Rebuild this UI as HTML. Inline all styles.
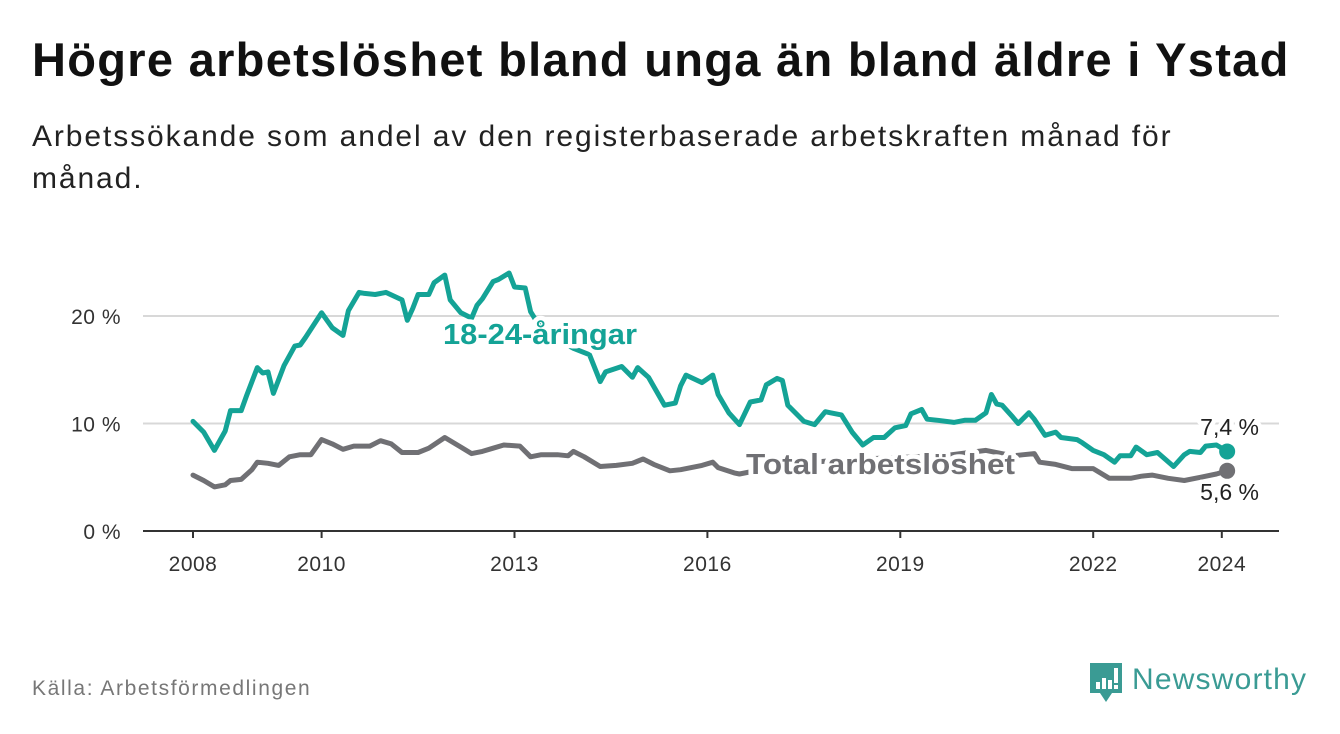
<!DOCTYPE html>
<html><head><meta charset="utf-8"><style>
body{margin:0;width:1340px;height:734px;background:#fff;font-family:"Liberation Sans",sans-serif;overflow:hidden;position:relative}
h1{position:absolute;left:32px;top:32px;margin:0;font-size:47px;font-weight:bold;color:#111;letter-spacing:1.3px;white-space:nowrap}
.sub{position:absolute;left:32px;top:116px;width:1200px;font-size:30px;line-height:42px;color:#222;letter-spacing:1.9px}
.src{position:absolute;left:32px;top:677px;font-size:21px;color:#777;letter-spacing:1.6px}
.logo{position:absolute;left:1088px;top:660px}
</style></head><body>
<h1>Högre arbetslöshet bland unga än bland äldre i Ystad</h1>
<div class="sub">Arbetssökande som andel av den registerbaserade arbetskraften månad för månad.</div>
<div class="src">Källa: Arbetsförmedlingen</div>
<svg class="logo" width="240" height="48">
<path d="M2 3h32v30h-10l-6 9-6-9H2z" fill="#3a9b94"/>
<rect x="8" y="22" width="4" height="7" fill="#fff"/><rect x="14" y="18" width="4" height="11" fill="#fff"/><rect x="20" y="20" width="4" height="9" fill="#fff"/><rect x="26" y="8" width="4" height="15" fill="#fff"/><rect x="26" y="25" width="4" height="4" fill="#fff"/>
<text x="44" y="29" font-size="30" font-family="Liberation Sans" fill="#3a9b94" textLength="174">Newsworthy</text>
</svg>
<svg id="chart" width="1340" height="734" style="position:absolute;left:0;top:0"></svg>
<script>
const youngMonths=[0,2,4,6,7,9,10,12,13,14,15,17,19,20,21,24,26,28,29,31,32,34,36,39,40,41,42,44,45,47,48,50,52,53,54,56,57,59,60,62,63,65,68,71,74,76,77,80,82,83,85,88,90,91,92,95,97,98,100,102,104,106,107,109,110,111,114,116,118,119,121,123,125,127,129,131,133,134,136,137,139,142,144,146,148,149,150,151,153,154,156,157,159,161,162,165,166,168,170,172,173,175,176,178,180,183,185,186,188,189,191,193];
const youngValues=[10.2,9.2,7.5,9.3,11.2,11.2,12.6,15.2,14.7,14.8,12.8,15.4,17.2,17.3,18,20.3,18.9,18.2,20.5,22.2,22.1,22,22.2,21.5,19.6,20.7,22,22,23.1,23.8,21.5,20.3,19.8,21,21.6,23.2,23.4,24,22.7,22.6,20.4,18.8,17.8,17,16.4,13.9,14.8,15.3,14.3,15.2,14.3,11.7,11.9,13.5,14.5,13.8,14.5,12.7,11,9.9,12,12.2,13.6,14.2,14,11.7,10.2,9.9,11.1,11,10.8,9.2,8,8.7,8.7,9.6,9.8,10.9,11.3,10.4,10.3,10.1,10.3,10.3,11,12.7,11.8,11.7,10.6,10,11,10.4,8.9,9.2,8.7,8.5,8.2,7.5,7.1,6.4,7,7,7.8,7.1,7.3,6,7.1,7.4,7.3,7.9,8,7.4];
const totalMonths=[0,2,4,6,7,9,11,12,14,16,18,20,22,24,26,28,30,33,35,37,39,42,44,47,50,52,54,56,58,61,63,65,68,70,71,73,76,79,82,84,86,89,91,95,97,98,101,102,110,120,130,140,148,153,155,157,158,161,164,166,168,171,175,177,179,182,185,188,191,193];
const totalValues=[5.2,4.7,4.1,4.3,4.7,4.8,5.7,6.4,6.3,6.1,6.9,7.1,7.1,8.5,8.1,7.6,7.9,7.9,8.4,8.1,7.3,7.3,7.7,8.7,7.8,7.2,7.4,7.7,8.0,7.9,6.9,7.1,7.1,7.0,7.4,6.9,6.0,6.1,6.3,6.7,6.2,5.6,5.7,6.1,6.4,5.9,5.4,5.3,6.1,6.6,6.8,7.0,7.5,7.0,7.1,7.2,6.4,6.2,5.8,5.8,5.8,4.9,4.9,5.1,5.2,4.9,4.7,5.0,5.3,5.6];
const yTicks=[0,10,20];
const yTickLabels=["0 %","10 %","20 %"];
const xTickYears=[2008,2010,2013,2016,2019,2022,2024];

const NS="http://www.w3.org/2000/svg";
const svg=document.getElementById('chart');
const X=m=>193+m*(64.3/12);
const XY=y=>X((y-2008)*12);
const Y=v=>531-v*10.75;
function el(t,a,p){const e=document.createElementNS(NS,t);for(const k in a)e.setAttribute(k,a[k]);(p||svg).appendChild(e);return e;}

yTicks.forEach((t,i)=>{
  if(t>0){const g=el('line',{x1:143,x2:1279,y1:Y(t),y2:Y(t),stroke:'#d8d8d8','stroke-width':2});
  
  }
  const l=el('text',{x:121,y:Y(t)+8,'text-anchor':'end','font-size':21,fill:'#333','font-family':'Liberation Sans','letter-spacing':0.5});
  l.textContent=yTickLabels[i];
  
  
});
const ax=el('line',{x1:143,x2:1279,y1:Y(0),y2:Y(0),stroke:'#333','stroke-width':2});


xTickYears.forEach(y=>{
  const tk=el('line',{x1:XY(y),x2:XY(y),y1:Y(0),y2:Y(0)+7,stroke:'#333','stroke-width':2});
  
  
  const l=el('text',{x:XY(y),y:571,'text-anchor':'middle','font-size':21,fill:'#333','font-family':'Liberation Sans','letter-spacing':0.5});
  l.textContent=y;
  
  
});
function line(ms,vs,color,name){
  const d=ms.map((m,i)=>(i?'L':'M')+X(m).toFixed(1)+' '+Y(vs[i]).toFixed(1)).join(' ');
  const p=el('path',{d:d,fill:'none',stroke:color,'stroke-width':5,'stroke-linejoin':'round','stroke-linecap':'round'});
  
  
  const n=ms.length-1;
  const c=el('circle',{cx:X(ms[n]),cy:Y(vs[n]),r:8,fill:color});
  
  
}
line(totalMonths,totalValues,'#707074','total-line');
line(youngMonths,youngValues,'#14a396','youth-line');
function label(x,y,txt,color,name,anchor,bold,size,len){
  const a={x:x,y:y,'text-anchor':anchor,'font-size':size,'font-weight':bold?'bold':'normal',fill:color,stroke:'#fff','stroke-width':9,'paint-order':'stroke','stroke-linejoin':'round','font-family':'Liberation Sans'};
  if(len){a.textLength=len;a.lengthAdjust='spacingAndGlyphs';}
  const t=el('text',a);
  t.textContent=txt;
  
  
}
label(443,344,'18-24-åringar','#14a396','youth-series-label','start',true,29,194);
label(746,474,'Total arbetslöshet','#707074','total-series-label','start',true,29,269);
label(1259,435,'7,4 %','#222','youth-last-value','end',false,23);
label(1259,500,'5,6 %','#222','total-last-value','end',false,23);
</script>
</body></html>
